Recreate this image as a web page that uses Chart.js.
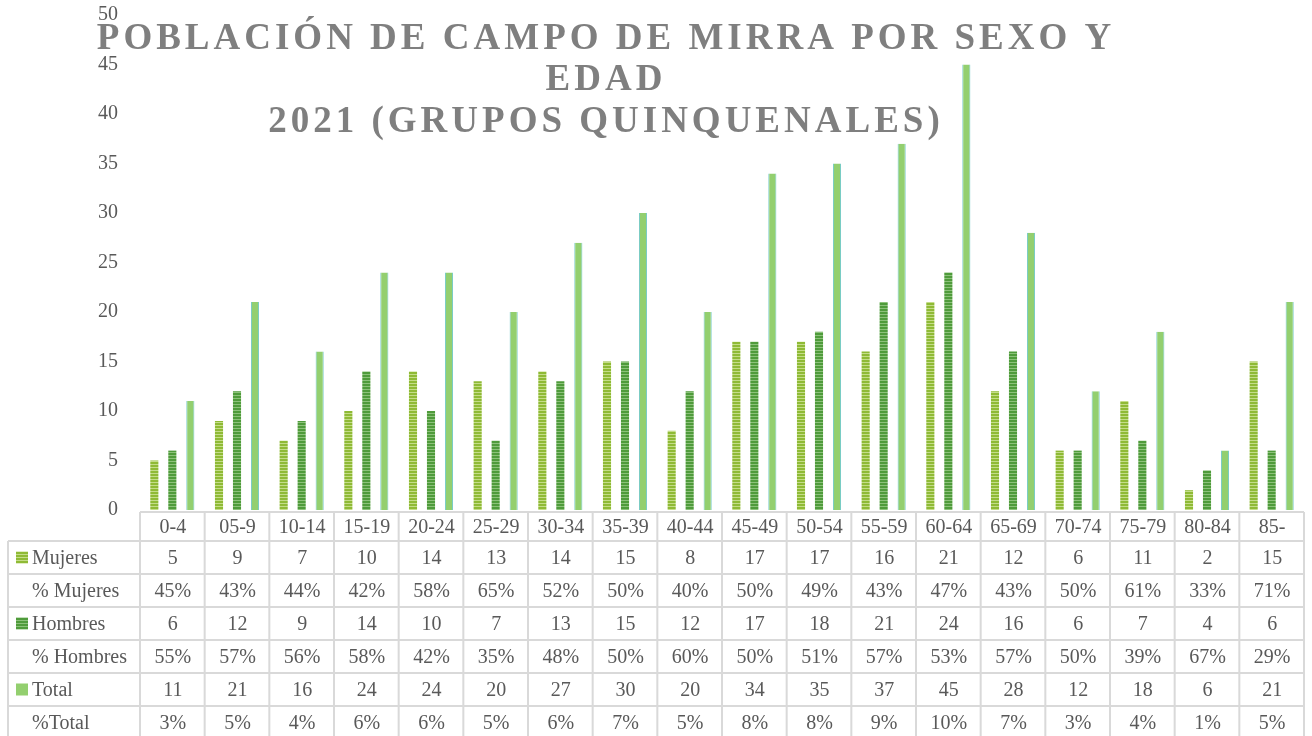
<!DOCTYPE html>
<html>
<head>
<meta charset="utf-8">
<script src="https://cdn.jsdelivr.net/npm/chart.js@4.4.0/dist/chart.umd.min.js"></script>
<style>
  html, body { margin: 0; padding: 0; background: #fff; }
  #contenedor { width: 1312px; height: 736px; }
</style>
</head>
<body>
<div id="contenedor"><canvas id="poblacionChart"></canvas></div>
<script>
// Datos
const grupos = ['0-4', '05-9', '10-14', '15-19', '20-24', '25-29', '30-34', '35-39', '40-44',
                '45-49', '50-54', '55-59', '60-64', '65-69', '70-74', '75-79', '80-84', '85-'];
const mujeres = [5, 9, 7, 10, 14, 13, 14, 15, 8, 17, 17, 16, 21, 12, 6, 11, 2, 15];
const pctMujeres = ['45%', '43%', '44%', '42%', '58%', '65%', '52%', '50%', '40%',
                    '50%', '49%', '43%', '47%', '43%', '50%', '61%', '33%', '71%'];
const hombres = [6, 12, 9, 14, 10, 7, 13, 15, 12, 17, 18, 21, 24, 16, 6, 7, 4, 6];
const pctHombres = ['55%', '57%', '56%', '58%', '42%', '35%', '48%', '50%', '60%',
                    '50%', '51%', '57%', '53%', '57%', '50%', '39%', '67%', '29%'];
const total = [11, 21, 16, 24, 24, 20, 27, 30, 20, 34, 35, 37, 45, 28, 12, 18, 6, 21];
const pctTotal = ['3%', '5%', '4%', '6%', '6%', '5%', '6%', '7%', '5%',
                  '8%', '8%', '9%', '10%', '7%', '3%', '4%', '1%', '5%'];
const tituloLineas = ['POBLACIÓN DE CAMPO DE MIRRA POR SEXO Y', 'EDAD', '2021 (GRUPOS QUINQUENALES)'];

const fuente = "'Liberation Serif', 'DejaVu Serif', serif";
const colorTexto = '#595959';
const colorLinea = '#d9d9d9';

const canvas = document.getElementById('poblacionChart');
const ctx = canvas.getContext('2d');

// Relleno rayado horizontal, como en Excel
function rayado(base, linea) {
    const c = document.createElement('canvas');
    c.width = 4;
    c.height = 3;
    const g = c.getContext('2d');
    g.fillStyle = base;
    g.fillRect(0, 0, 4, 3);
    g.fillStyle = linea;
    g.fillRect(0, 2, 4, 1);
    return ctx.createPattern(c, 'repeat');
}

const rellenoMujeres = rayado('#8fba35', '#c4dd88');
const rellenoHombres = rayado('#4f9b3b', '#8cc27a');
const rellenoTotal = '#93cf6f';

// Texto con espaciado entre letras, centrado en cx
function textoEspaciado(g, texto, cx, y, espacio) {
    const anchos = [...texto].map(ch => g.measureText(ch).width);
    const ancho = anchos.reduce((a, b) => a + b, 0) + espacio * (anchos.length - 1);
    let x = cx - ancho / 2;
    [...texto].forEach((ch, i) => {
        g.fillText(ch, x, y);
        x += anchos[i] + espacio;
    });
}

const tituloPlugin = {
    id: 'tituloEspaciado',
    afterDraw(chart) {
        const g = chart.ctx;
        g.save();
        g.font = 'bold 37px ' + fuente;
        g.fillStyle = '#7f7f7f';
        g.textAlign = 'left';
        g.textBaseline = 'alphabetic';
        const bases = [49, 90, 132];
        tituloLineas.forEach((linea, i) => textoEspaciado(g, linea, 604, bases[i], 4));
        g.restore();
    }
};

// Tabla de datos bajo el eje, alineada con la escala x
const tablaPlugin = {
    id: 'tablaDatos',
    afterDraw(chart) {
        const g = chart.ctx;
        const x = chart.scales.x;
        const n = grupos.length;
        const colW = (x.right - x.left) / n;
        const top = chart.chartArea.bottom + 2;
        const altoCab = 29;
        const altoFila = 33;
        const izq = 8;
        const fondo = chart.height;

        const filas = [
            { nombre: 'Mujeres', valores: mujeres, marca: rellenoMujeres },
            { nombre: '% Mujeres', valores: pctMujeres },
            { nombre: 'Hombres', valores: hombres, marca: rellenoHombres },
            { nombre: '% Hombres', valores: pctHombres },
            { nombre: 'Total', valores: total, marca: rellenoTotal },
            { nombre: '%Total', valores: pctTotal }
        ];

        g.save();
        g.strokeStyle = colorLinea;
        g.lineWidth = 2;
        g.beginPath();
        g.moveTo(x.left, top);
        g.lineTo(x.right, top);
        for (let r = 0; r <= filas.length; r++) {
            const y = top + altoCab + r * altoFila;
            g.moveTo(izq, y);
            g.lineTo(x.right, y);
        }
        for (let i = 0; i <= n; i++) {
            const xx = x.left + i * colW;
            g.moveTo(xx, top);
            g.lineTo(xx, fondo);
        }
        g.moveTo(izq, top + altoCab);
        g.lineTo(izq, fondo);
        g.stroke();

        g.font = '20px ' + fuente;
        g.fillStyle = colorTexto;
        g.textBaseline = 'middle';
        g.textAlign = 'center';
        grupos.forEach((gr, i) => {
            g.fillText(gr, x.getPixelForValue(i) + 0.5, top + altoCab / 2 + 1);
        });

        filas.forEach((fila, r) => {
            const yc = top + altoCab + r * altoFila + altoFila / 2 + 1;
            if (fila.marca) {
                g.fillStyle = fila.marca;
                g.fillRect(16, yc - 7, 12, 12);
            }
            g.fillStyle = colorTexto;
            g.textAlign = 'left';
            g.fillText(fila.nombre, 32, yc);
            g.textAlign = 'center';
            fila.valores.forEach((v, i) => {
                g.fillText(v, x.getPixelForValue(i) + 0.5, yc);
            });
        });
        g.restore();
    }
};

const grafico = new Chart(ctx, {
    type: 'bar',
    data: {
        labels: grupos,
        datasets: [
            {
                label: 'Mujeres',
                data: mujeres,
                backgroundColor: rellenoMujeres,
                categoryPercentage: 0.835,
                barPercentage: 0.45
            },
            {
                label: 'Hombres',
                data: hombres,
                backgroundColor: rellenoHombres,
                categoryPercentage: 0.835,
                barPercentage: 0.45
            },
            {
                label: 'Total',
                data: total,
                backgroundColor: rellenoTotal,
                borderColor: '#72c9c6',
                borderWidth: { left: 1, right: 1, top: 0, bottom: 0 },
                borderSkipped: false,
                categoryPercentage: 0.835,
                barPercentage: 0.45
            }
        ]
    },
    options: {
        responsive: true,
        maintainAspectRatio: false,
        animation: false,
        layout: {
            padding: { left: 0, right: 8, top: 15, bottom: 226 }
        },
        scales: {
            x: {
                display: false,
                grid: { display: false },
                afterFit: s => { s.height = 0; }
            },
            y: {
                min: 0,
                max: 50,
                grid: { display: false, drawTicks: false },
                border: { display: false },
                ticks: {
                    stepSize: 5,
                    padding: 22,
                    color: colorTexto,
                    font: { family: fuente, size: 20 }
                },
                afterFit: s => {
                    s.width = 140;
                    // el padding de las marcas no debe empujar el área del gráfico
                    s.paddingTop = 12;
                    s.paddingBottom = 12;
                }
            }
        },
        plugins: {
            legend: { display: false },
            title: { display: false },
            tooltip: { enabled: false }
        }
    },
    plugins: [tablaPlugin, tituloPlugin]
});
</script>
</body>
</html>
